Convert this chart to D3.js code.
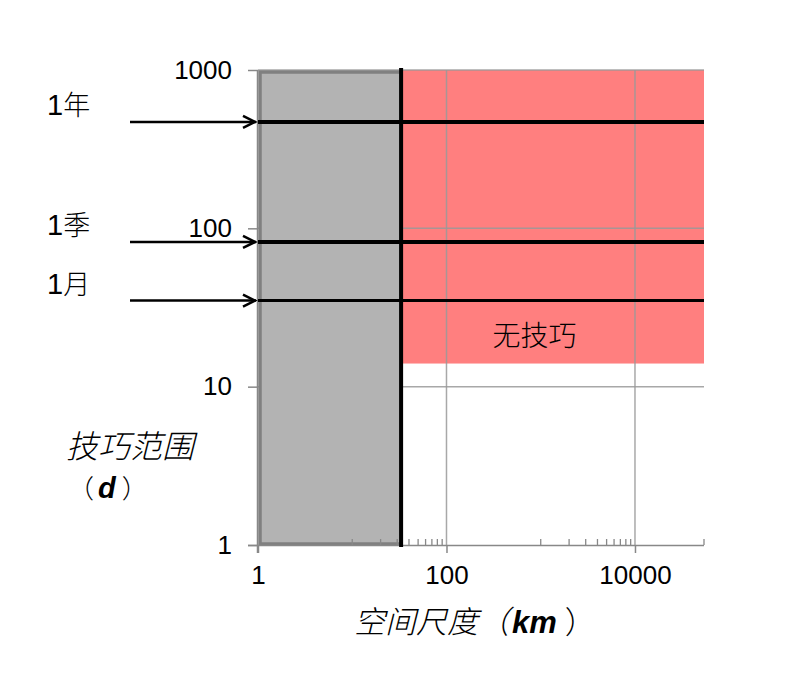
<!DOCTYPE html>
<html><head><meta charset="utf-8">
<script src="https://cdn.jsdelivr.net/npm/d3@7/dist/d3.min.js"></script>
<style>
html,body{margin:0;padding:0;background:#fff;}
svg{display:block;}
</style></head>
<body><div id="chart"></div>
<script>
// ---- data ----
const xDomain = [1, 54000];           // spatial scale (km), log axis
const yDomain = [1, 1000];            // skill range (days), log axis
const xTickValues = [1, 100, 10000];
const xTickLabels = ["1", "100", "10000"];
const xMinorTicks = [10,20,30,40,50,60,70,80,90,1000,2000,3000,4000,5000,6000,7000,8000,9000,54000];
const yTickValues = [1, 10, 100, 1000];
const yTickLabels = ["1", "10", "100", "1000"];
const boundaryKm = 33;                // edge of the grey (no-resolution) zone
const noSkillBottom = 14;             // lower edge of the red "无技巧" zone (days)
const timeLabels = ["1年", "1季", "1月"];
const timeValues = [470, 82, 35];
const timeLineWidths = [4, 4, 3];
const noSkillLabel = "无技巧";

// ---- layout ----
const W = 804, H = 675;
const svg = d3.select("#chart").append("svg").attr("width", W).attr("height", H);
const x = d3.scaleLog().domain(xDomain).range([258, 704]);
const y = d3.scaleLog().domain(yDomain).range([545, 70]);
const cjk = "'Noto Sans CJK SC', 'Noto Sans', sans-serif";
const latin = "'Liberation Sans', Arial, sans-serif";

// red no-skill zone
svg.append("rect")
  .attr("x", x(boundaryKm)).attr("y", y(yDomain[1]))
  .attr("width", x(xDomain[1]) - x(boundaryKm))
  .attr("height", y(noSkillBottom) - y(yDomain[1]))
  .attr("fill", "#ff7f7f");

// gridlines
const grid = svg.append("g").attr("stroke", "#999").attr("stroke-width", 1.5).attr("stroke-opacity", 0.85);
xTickValues.slice(1).forEach(v => grid.append("line")
  .attr("x1", x(v)).attr("x2", x(v)).attr("y1", y(yDomain[1])).attr("y2", y(yDomain[0])));
yTickValues.slice(1).forEach(v => grid.append("line")
  .attr("x1", x(xDomain[0])).attr("x2", x(xDomain[1])).attr("y1", y(v)).attr("y2", y(v)));

// grey zone
svg.append("rect")
  .attr("x", x(xDomain[0]) + 2).attr("y", y(yDomain[1]) + 2)
  .attr("width", x(boundaryKm) - x(xDomain[0]) - 2)
  .attr("height", y(yDomain[0]) - y(yDomain[1]) - 3)
  .attr("fill", "#b3b3b3").attr("stroke", "#808080").attr("stroke-width", 3.5);

// x axis
const xAxisG = svg.append("g").attr("transform", `translate(0,${y(yDomain[0])})`);
xAxisG.call(d3.axisBottom(x).tickValues(xTickValues)
  .tickFormat((d, i) => xTickLabels[i]).tickSizeInner(8).tickSizeOuter(0).tickPadding(13));
xAxisG.append("g").selectAll("line").data(xMinorTicks).join("line")
  .attr("x1", d => x(d)).attr("x2", d => x(d)).attr("y1", 0).attr("y2", -6)
  .attr("stroke", "#888").attr("stroke-width", 1.3);
xAxisG.select(".domain").attr("d", `M${x(xDomain[0]) - 10},0.5H${x(xDomain[1])}`);

// y axis
const yAxisG = svg.append("g").attr("transform", `translate(${x(xDomain[0])},0)`);
yAxisG.call(d3.axisLeft(y).tickValues(yTickValues)
  .tickFormat((d, i) => yTickLabels[i]).tickSizeInner(10).tickSizeOuter(0).tickPadding(16));
yAxisG.select(".domain").attr("d", `M-0.5,${y(yDomain[1])}V${y(yDomain[0]) + 8}`);

[xAxisG, yAxisG].forEach(g => {
  g.selectAll(".domain").attr("stroke", "#888").attr("stroke-width", 1.5);
  g.selectAll(".tick line").attr("stroke", "#888").attr("stroke-width", 1.5);
  g.selectAll(".tick text").attr("fill", "#000").style("font-family", latin).style("font-size", "26px");
});
xAxisG.selectAll(".tick text").attr("dy", "0.71em");

// boundary line
svg.append("line")
  .attr("x1", x(boundaryKm)).attr("x2", x(boundaryKm))
  .attr("y1", y(yDomain[1]) - 2).attr("y2", y(yDomain[0]) + 2)
  .attr("stroke", "#000").attr("stroke-width", 4);

// time-scale lines with arrows
const arrowLen = 128;
timeValues.forEach((v, i) => {
  const yy = y(v);
  const x0 = x(xDomain[0]);
  svg.append("line").attr("x1", x0 - arrowLen).attr("x2", x0 - 2).attr("y1", yy).attr("y2", yy)
    .attr("stroke", "#000").attr("stroke-width", 2.5);
  svg.append("path").attr("d", `M${x0 - 15},${yy - 6}L${x0 - 3},${yy}L${x0 - 15},${yy + 6}`)
    .attr("fill", "none").attr("stroke", "#000").attr("stroke-width", 2.5);
  svg.append("line").attr("x1", x0).attr("x2", x(xDomain[1])).attr("y1", yy).attr("y2", yy)
    .attr("stroke", "#000").attr("stroke-width", timeLineWidths[i]);
  const t = svg.append("text").attr("x", 47).attr("y", yy - 7).attr("fill", "#000")
    .style("font-size", "29px");
  t.append("tspan").style("font-family", latin).text(timeLabels[i].slice(0, 1));
  t.append("tspan").style("font-family", cjk).style("font-weight", 300).style("font-size", "27px")
    .text(timeLabels[i].slice(1));
});

// no-skill label
svg.append("text").attr("x", (x(boundaryKm) + x(xDomain[1])) / 2 - 18).attr("y", 346)
  .attr("text-anchor", "middle").style("font-family", cjk).style("font-weight", 300)
  .style("font-size", "28px").attr("fill", "#000").text(noSkillLabel);

// y title
svg.append("text").attr("x", 66).attr("y", 458).style("font-family", cjk).style("font-style", "italic")
  .style("font-weight", 300).style("font-size", "32px").attr("fill", "#000").text("技巧范围");
const yt2 = svg.append("text").attr("x", 68).attr("y", 498).attr("fill", "#000");
yt2.append("tspan").style("font-family", cjk).style("font-weight", 300).style("font-size", "26px").text("（");
yt2.append("tspan").attr("dx", 4).style("font-family", latin).style("font-weight", "bold").style("font-style", "italic").style("font-size", "29px").text("d");
yt2.append("tspan").attr("dx", 6).style("font-family", cjk).style("font-weight", 300).style("font-size", "26px").text("）");

// x title
const xt = svg.append("text").attr("x", 354).attr("y", 633).attr("fill", "#000").style("font-size", "31px");
xt.append("tspan").style("font-family", cjk).style("font-style", "italic").style("font-weight", 300).text("空间尺度（");
xt.append("tspan").attr("dx", 3).style("font-family", latin).style("font-weight", "bold").style("font-style", "italic").text("km");
xt.append("tspan").attr("dx", 8).style("font-family", cjk).style("font-weight", 300).text("）");
</script></body></html>
